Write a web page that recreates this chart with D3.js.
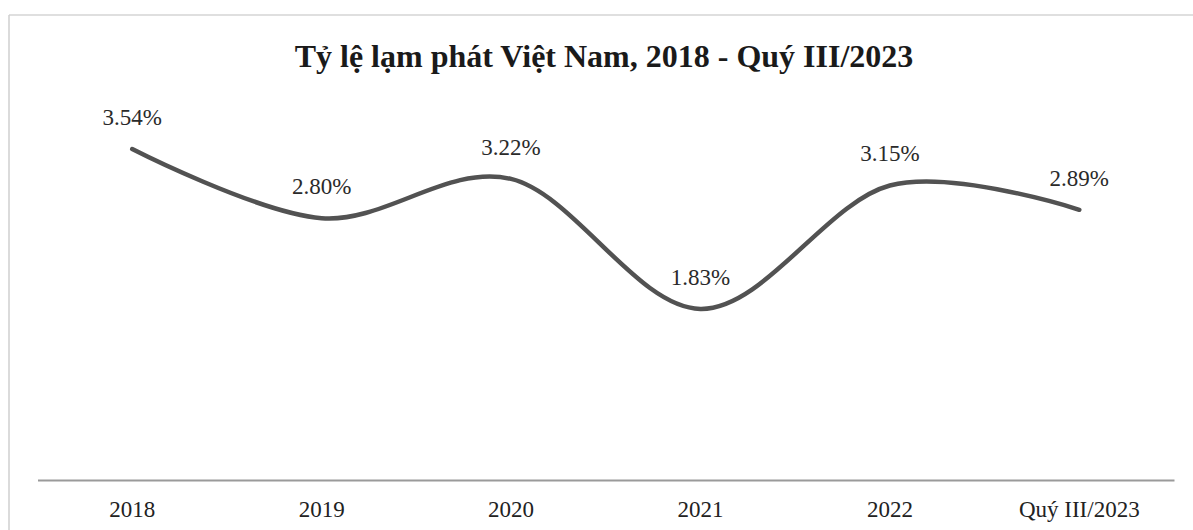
<!DOCTYPE html>
<html>
<head>
<meta charset="utf-8">
<script src="https://cdn.jsdelivr.net/npm/d3@7/dist/d3.min.js"></script>
<style>
  html, body { margin: 0; padding: 0; background: #fff; }
  svg { display: block; }
</style>
</head>
<body>
<svg id="chart" width="1193" height="530"></svg>
<script>
const title = "Tỷ lệ lạm phát Việt Nam, 2018 - Quý III/2023";
const categories = ["2018", "2019", "2020", "2021", "2022", "Quý III/2023"];
const inflation = [3.54, 2.80, 3.22, 1.83, 3.15, 2.89];
const valueLabels = ["3.54%", "2.80%", "3.22%", "1.83%", "3.15%", "2.89%"];
const yDomain = [0, 4];

const svg = d3.select("#chart");
const W = 1193, H = 530;
const plot = { left: 37.5, right: 1174, top: 106, bottom: 480 };
const serif = "'Liberation Serif', 'Times New Roman', serif";

// chart frame (top and left edges of scanned frame)
svg.append("line").attr("x1", 9).attr("x2", W).attr("y1", 15).attr("y2", 15)
  .attr("stroke", "#d4d4d4").attr("stroke-width", 1.5);
svg.append("line").attr("x1", 9).attr("x2", 9).attr("y1", 15).attr("y2", H)
  .attr("stroke", "#cfcfcf").attr("stroke-width", 1.5);

const x = d3.scaleBand().domain(categories).range([plot.left, plot.right]);
const y = d3.scaleLinear().domain(yDomain).range([plot.bottom, plot.top]);

// title
svg.append("text")
  .attr("x", 604).attr("y", 67)
  .attr("text-anchor", "middle")
  .attr("font-family", serif)
  .attr("font-weight", "bold")
  .attr("font-size", 32)
  .attr("fill", "#1a1a1a")
  .text(title);

// x axis
const xAxis = d3.axisBottom(x).tickSize(0).tickPadding(21);
const gx = svg.append("g").attr("transform", `translate(0,${plot.bottom})`).call(xAxis);
gx.select(".domain").attr("stroke", "#9a9a9a").attr("stroke-width", 2);
gx.selectAll("text")
  .attr("font-family", serif)
  .attr("font-size", 23)
  .attr("fill", "#222");

// line
const pts = categories.map((c, i) => ({ c, v: inflation[i], label: valueLabels[i] }));
const line = d3.line()
  .x(d => x(d.c) + x.bandwidth() / 2)
  .y(d => y(d.v))
  .curve(d3.curveCardinal.tension(0));

svg.append("path")
  .datum(pts)
  .attr("d", line)
  .attr("fill", "none")
  .attr("stroke", "#525252")
  .attr("stroke-width", 4.5)
  .attr("stroke-linecap", "round");

// value labels
svg.append("g").selectAll("text")
  .data(pts)
  .join("text")
  .attr("x", d => x(d.c) + x.bandwidth() / 2)
  .attr("y", d => y(d.v) - 24)
  .attr("text-anchor", "middle")
  .attr("font-family", serif)
  .attr("font-size", 23)
  .attr("fill", "#2a2a2a")
  .text(d => d.label);
</script>
</body>
</html>
